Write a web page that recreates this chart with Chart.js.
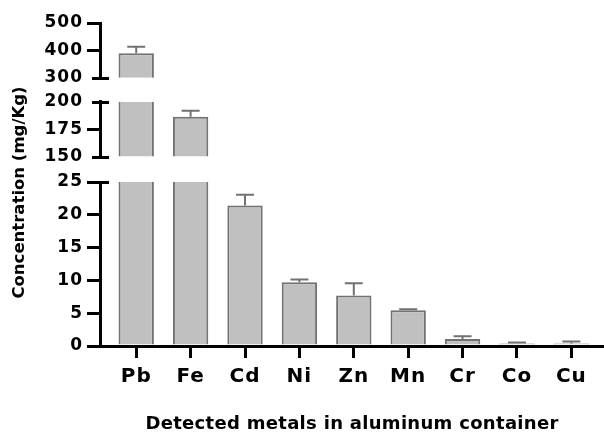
<!DOCTYPE html>
<html>
<head>
<meta charset="utf-8">
<script src="https://cdn.jsdelivr.net/npm/chart.js@4.4.1/dist/chart.umd.min.js"></script>
<style>
  html, body { margin: 0; padding: 0; background: #fff; }
  #wrap { width: 604px; height: 432px; }
</style>
</head>
<body>
<div id="wrap"><canvas id="chart" width="604" height="432"></canvas></div>
<script>
  // Data
  var metals = ["Pb", "Fe", "Cd", "Ni", "Zn", "Mn", "Cr", "Co", "Cu"];
  var concentration = [390, 186.3, 21.4, 9.7, 7.7, 5.45, 1.05, 0.4, 0.4];
  var errorUp = [23, 5.5, 1.65, 0.45, 1.85, 0.15, 0.45, 0.12, 0.3];

  // Broken y axis: three bands
  var topTicks = [300, 400, 500];
  var midTicks = [150, 175, 200];
  var lowTicks = [0, 5, 10, 15, 20, 25];
  var hiddenTicks = [300, 200, 150];
  var breakCaps = { yTop: [300], yMid: [150, 200], yLow: [25] };

  var yTitle = "Concentration (mg/Kg)";
  var xTitle = "Detected metals in aluminum container";

  var FONT = "'DejaVu Sans', sans-serif";
  var BAR_FILL = "#c0c0c0";
  var BAR_LINE = "#727272";

  function bandAxis(min, max, ticks, weight, stackWeight) {
    return {
      type: "linear",
      position: "left",
      stack: "conc",
      stackWeight: stackWeight,
      weight: weight,
      min: min,
      max: max,
      afterBuildTicks: function (axis) {
        axis.ticks = ticks.map(function (v) { return { value: v }; });
      },
      afterFit: function (axis) { axis.width = 100; },
      ticks: {
        color: "#000",
        font: { family: FONT, size: 17, weight: "bold" },
        padding: 4,
        autoSkip: false
      },
      grid: {
        drawOnChartArea: false,
        drawTicks: true,
        tickLength: 13,
        lineWidth: 3,
        z: 1,
        color: function (c) {
          return c.tick && hiddenTicks.indexOf(c.tick.value) >= 0 ? "rgba(0,0,0,0)" : "#000";
        }
      },
      border: { display: true, color: "#000", width: 3, z: 1 }
    };
  }

  function spacerAxis(weight, stackWeight) {
    return {
      type: "linear",
      position: "left",
      stack: "conc",
      stackWeight: stackWeight,
      weight: weight,
      ticks: { display: false },
      grid: { display: false },
      border: { display: false },
      afterFit: function (axis) { axis.width = 0; }
    };
  }

  function bandDataset(axisId) {
    return {
      yAxisID: axisId,
      xAxisID: "x",
      data: metals.map(function (m, i) { return { x: i, y: concentration[i] }; }),
      backgroundColor: BAR_FILL,
      borderColor: BAR_LINE,
      borderWidth: 2,
      borderSkipped: "start",
      grouped: false,
      barPercentage: 0.65,
      categoryPercentage: 1
    };
  }

  // letter spacing for the tick labels
  var spacing = {
    id: "spacing",
    beforeLayout: function (chart) { chart.ctx.letterSpacing = "1px"; },
    beforeDraw: function (chart) { chart.ctx.letterSpacing = "1px"; }
  };

  // clip each dataset to its own band, draw upper error bars
  var bandClip = {
    id: "bandClip",
    beforeDatasetDraw: function (chart, args) {
      var s = chart.scales[args.meta.yAxisID];
      var a = chart.chartArea;
      var ctx = chart.ctx;
      ctx.save();
      ctx.beginPath();
      ctx.rect(a.left, s.top, a.right - a.left, s.bottom - s.top);
      ctx.clip();
    },
    afterDatasetDraw: function (chart, args) {
      var s = chart.scales[args.meta.yAxisID];
      var ctx = chart.ctx;
      ctx.strokeStyle = BAR_LINE;
      ctx.lineWidth = 2;
      args.meta.data.forEach(function (bar, i) {
        var y0 = s.getPixelForValue(concentration[i]);
        var y1 = s.getPixelForValue(concentration[i] + errorUp[i]);
        ctx.beginPath();
        ctx.moveTo(bar.x, y0);
        ctx.lineTo(bar.x, y1);
        ctx.moveTo(bar.x - 9, y1);
        ctx.lineTo(bar.x + 9, y1);
        ctx.stroke();
      });
      ctx.restore();
    }
  };

  // break caps and axis titles
  var decor = {
    id: "decor",
    afterDraw: function (chart) {
      var ctx = chart.ctx;
      var a = chart.chartArea;
      ctx.save();
      ctx.strokeStyle = "#000";
      ctx.lineWidth = 3;
      Object.keys(breakCaps).forEach(function (id) {
        var s = chart.scales[id];
        breakCaps[id].forEach(function (v) {
          var y = Math.round(s.getPixelForValue(v)) + 0.5;
          ctx.beginPath();
          ctx.moveTo(s.right - 8, y);
          ctx.lineTo(s.right + 9, y);
          ctx.stroke();
        });
      });

      ctx.letterSpacing = "0px";
      ctx.fillStyle = "#000";
      ctx.font = "bold 16.5px " + FONT;
      ctx.textAlign = "center";
      ctx.textBaseline = "middle";
      ctx.save();
      ctx.translate(20, (a.top + a.bottom) / 2 + 8);
      ctx.rotate(-Math.PI / 2);
      ctx.fillText(yTitle, 0, 0);
      ctx.restore();

      ctx.letterSpacing = "0.3px";
      ctx.font = "bold 18px " + FONT;
      ctx.textBaseline = "alphabetic";
      ctx.fillText(xTitle, (a.left + a.right) / 2, chart.height - 3);
      ctx.restore();
    }
  };

  new Chart(document.getElementById("chart"), {
    type: "bar",
    data: {
      datasets: [bandDataset("yTop"), bandDataset("yMid"), bandDataset("yLow")]
    },
    options: {
      responsive: false,
      animation: false,
      layout: { padding: { top: 23, right: 0, bottom: 0, left: 0 } },
      plugins: { legend: { display: false }, tooltip: { enabled: false } },
      scales: {
        x: {
          type: "linear",
          position: "bottom",
          offset: false,
          min: -0.666,
          max: 8.6,
          afterBuildTicks: function (axis) {
            axis.ticks = metals.map(function (m, i) { return { value: i }; });
          },
          afterFit: function (axis) { axis.height = 86; },
          ticks: {
            color: "#000",
            font: { family: FONT, size: 20, weight: "bold" },
            padding: 7,
            maxRotation: 0,
            autoSkip: false,
            callback: function (v) { return metals[v]; }
          },
          grid: {
            offset: false,
            drawOnChartArea: false,
            drawTicks: true,
            tickLength: 12,
            lineWidth: 3,
            color: "#000",
            z: 1
          },
          border: { display: true, color: "#000", width: 3, z: 1 }
        },
        yTop: bandAxis(300, 500, topTicks, 5, 55),
        gapA: spacerAxis(4, 24),
        yMid: bandAxis(150, 200, midTicks, 3, 55),
        gapB: spacerAxis(2, 25.5),
        yLow: bandAxis(0, 25, lowTicks, 1, 164.5)
      }
    },
    plugins: [spacing, bandClip, decor]
  });
</script>
</body>
</html>
